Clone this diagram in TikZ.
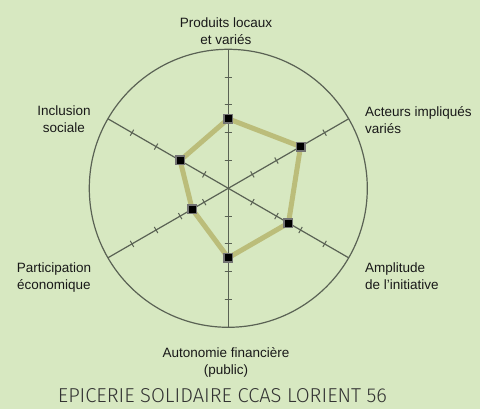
\documentclass[tikz,border=0pt]{standalone}
\usepackage{fontspec}
\usepackage{graphicx}
\setmainfont{Liberation Sans}
\newfontfamily\titlefont{Fira Sans Light}
\definecolor{bggreen}{RGB}{215,232,193}
\definecolor{axisgray}{RGB}{90,98,84}
\definecolor{scoreolive}{RGB}{187,189,122}
\definecolor{boxgray}{RGB}{115,115,115}
\tikzstyle{radaraxis} = [draw=axisgray, line width=1.2pt]
\tikzstyle{tickmark} = [rectangle, draw=axisgray, line width=1pt, inner sep=0pt, minimum width=0pt, minimum height=7pt, sloped]
\tikzstyle{scoreline} = [draw=scoreolive, line width=5pt, line join=round]
\tikzstyle{scorebox} = [rectangle, fill=black, draw=boxgray, line width=1.5pt, minimum size=8.5pt, inner sep=0pt]
\tikzstyle{axistext} = [font=\fontsize{13.5}{17}\selectfont, inner sep=0pt, text=black!90]

\begin{document}
\begin{tikzpicture}[x=1pt, y=1pt]
% Background and frame of the picture
\fill[bggreen] (-228.3,-220.7) rectangle (251.7,188.3);
\useasboundingbox (-228.3,-220.7) rectangle (251.7,188.3);

% Centre and ends of the six axes
\coordinate (c) at (0,0);
\coordinate (a1) at (90:139);
\coordinate (a2) at (30:139);
\coordinate (a3) at (-30:139);
\coordinate (a4) at (-90:139);
\coordinate (a5) at (210:139);
\coordinate (a6) at (150:139);

% Outer circle and axes with their ticks
\draw[radaraxis] (c) circle (139);
\draw[radaraxis] (c) -- (a1) node[tickmark, pos=.2]{} node[tickmark, pos=.4]{} node[tickmark, pos=.6]{} node[tickmark, pos=.8]{};
\draw[radaraxis] (c) -- (a2) node[tickmark, pos=.2]{} node[tickmark, pos=.4]{} node[tickmark, pos=.6]{} node[tickmark, pos=.8]{};
\draw[radaraxis] (c) -- (a3) node[tickmark, pos=.2]{} node[tickmark, pos=.4]{} node[tickmark, pos=.6]{} node[tickmark, pos=.8]{};
\draw[radaraxis] (c) -- (a4) node[tickmark, pos=.2]{} node[tickmark, pos=.4]{} node[tickmark, pos=.6]{} node[tickmark, pos=.8]{};
\draw[radaraxis] (c) -- (a5) node[tickmark, pos=.2]{} node[tickmark, pos=.4]{} node[tickmark, pos=.6]{} node[tickmark, pos=.8]{};
\draw[radaraxis] (c) -- (a6) node[tickmark, pos=.2]{} node[tickmark, pos=.4]{} node[tickmark, pos=.6]{} node[tickmark, pos=.8]{};

% Scores (one level = 27.8)
\coordinate (v1) at (90:69.5);
\coordinate (v2) at (30:83.4);
\coordinate (v3) at (-30:69.5);
\coordinate (v4) at (-90:69.5);
\coordinate (v5) at (210:41.7);
\coordinate (v6) at (150:55.6);

\draw[scoreline] (v1) -- (v2) -- (v3) -- (v4) -- (v5) -- (v6) -- cycle;

\node[scorebox] (m1) at (v1) {};
\node[scorebox] (m2) at (v2) {};
\node[scorebox] (m3) at (v3) {};
\node[scorebox] (m4) at (v4) {};
\node[scorebox] (m5) at (v5) {};
\node[scorebox] (m6) at (v6) {};

% Axis labels
\node[axistext, anchor=north, align=center] (lblProduits) at (-2.3,170.3) {Produits locaux\\et variés};
\node[axistext, anchor=north west, align=left] (lblActeurs) at (136.7,82.3) {Acteurs impliqués\\variés};
\node[axistext, anchor=north west, align=left] (lblAmplitude) at (136.7,-74.7) {Amplitude\\de l’initiative};
\node[axistext, anchor=north, align=center] (lblAutonomie) at (-2.3,-158.7) {Autonomie financière\\(public)};
\node[axistext, anchor=north, align=center] (lblParticipation) at (-174.3,-74.4) {Participation\\économique};
\node[axistext, anchor=north, align=center] (lblInclusion) at (-164.3,82.3) {Inclusion\\sociale};

% Title
\node[anchor=north, inner sep=0pt, text=black!80] (title) at (-5.8,-199.7) {\titlefont\resizebox{329pt}{14pt}{EPICERIE SOLIDAIRE CCAS LORIENT 56}};

\end{tikzpicture}
\end{document}
